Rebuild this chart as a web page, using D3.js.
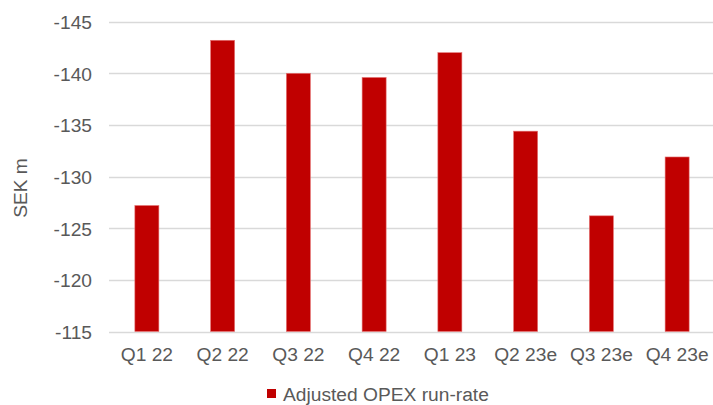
<!DOCTYPE html>
<html>
<head>
<meta charset="utf-8">
<script src="https://cdn.jsdelivr.net/npm/d3@7/dist/d3.min.js"></script>
<style>
  body { margin: 0; background: #fff; }
  svg text { font-family: "Liberation Sans", Arial, sans-serif; fill: #595959; }
</style>
</head>
<body>
<svg id="chart" width="713" height="405"></svg>
<script>
// chart data
const quarters = ["Q1 22", "Q2 22", "Q3 22", "Q4 22", "Q1 23", "Q2 23e", "Q3 23e", "Q4 23e"];
const opexRunRate = [-127.2, -143.2, -140.0, -139.6, -142.0, -134.4, -126.2, -131.9];
const yTicks = [-115, -120, -125, -130, -135, -140, -145];
const seriesName = "Adjusted OPEX run-rate";
const axisTitle = "SEK m";

const svg = d3.select("#chart");
const plotLeft = 109, plotRight = 715, plotTop = 21.7, plotBottom = 331.5;
const barColor = "#c00000";
const fontSize = "19.2px";

// x scale - band per quarter
const x = d3.scaleBand()
  .domain(quarters)
  .range([plotLeft, plotRight])
  .paddingInner(0.683)
  .paddingOuter(0.3415);

// y scale - -115 at bottom, -145 at top
const y = d3.scaleLinear()
  .domain([-115, -145])
  .range([plotBottom, plotTop]);

// gridlines
svg.append("g")
  .selectAll("line")
  .data(yTicks)
  .join("line")
    .attr("x1", plotLeft)
    .attr("x2", 713)
    .attr("y1", d => Math.round(y(d)) + 0.5)
    .attr("y2", d => Math.round(y(d)) + 0.5)
    .attr("stroke", "#d9d9d9")
    .attr("stroke-width", 1.3);

// y axis labels (plain hyphen like the original)
const leftAxis = d3.axisLeft(y)
  .tickValues(yTicks)
  .tickFormat(d => String(d))
  .tickSize(0)
  .tickPadding(17);
const yAxis = svg.append("g")
  .attr("transform", `translate(${plotLeft},0)`)
  .call(leftAxis);
yAxis.select(".domain").remove();
yAxis.selectAll("text")
  .style("font-size", fontSize)
  .attr("dy", "0.36em");

// bars
svg.append("g")
  .selectAll("rect")
  .data(quarters)
  .join("rect")
    .attr("x", d => x(d))
    .attr("width", x.bandwidth())
    .attr("y", (d, i) => y(opexRunRate[i]))
    .attr("height", (d, i) => y(-115) - y(opexRunRate[i]))
    .attr("fill", barColor)
    .attr("stroke", "#e57373")
    .attr("stroke-width", 0.6);

// x axis labels
const bottomAxis = d3.axisBottom(x).tickSize(0).tickPadding(16);
const xAxis = svg.append("g")
  .attr("transform", `translate(0,${plotBottom})`)
  .call(bottomAxis);
xAxis.select(".domain").remove();
xAxis.selectAll("text")
  .style("font-size", fontSize)
  .attr("dy", "0.71em");

// axis title
svg.append("text")
  .attr("transform", "translate(27,188) rotate(-90)")
  .attr("text-anchor", "middle")
  .style("font-size", fontSize)
  .text(axisTitle);

// legend
const legend = svg.append("g");
legend.append("rect")
  .attr("x", 267)
  .attr("y", 389)
  .attr("width", 9)
  .attr("height", 9)
  .attr("fill", barColor);
legend.append("text")
  .attr("x", 283)
  .attr("y", 401)
  .style("font-size", fontSize)
  .text(seriesName);
</script>
</body>
</html>
